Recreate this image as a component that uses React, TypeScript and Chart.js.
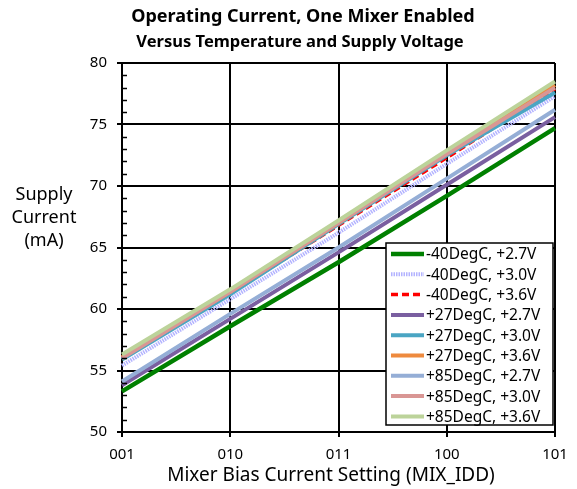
import React, { useEffect, useRef } from "react";
import { Chart, registerables } from "chart.js";

Chart.register(...registerables);

const categories = ["001", "010", "011", "100", "101"];
const seriesNames = [
  "-40DegC, +2.7V",
  "-40DegC, +3.0V",
  "-40DegC, +3.6V",
  "+27DegC, +2.7V",
  "+27DegC, +3.0V",
  "+27DegC, +3.6V",
  "+85DegC, +2.7V",
  "+85DegC, +3.0V",
  "+85DegC, +3.6V",
];
const m40_27 = [53.3, 58.6, 63.8, 69.2, 74.7];
const m40_30 = [55.4, 60.8, 66.2, 71.8, 77.3];
const m40_36 = [56.0, 61.3, 66.8, 72.3, 77.9];
const p27_27 = [53.8, 59.2, 64.6, 70.1, 75.6];
const p27_30 = [55.9, 61.2, 66.9, 72.5, 77.6];
const p27_36 = [56.1, 61.4, 67.0, 72.7, 78.2];
const p85_27 = [54.1, 59.6, 65.0, 70.6, 76.2];
const p85_30 = [56.0, 61.4, 67.0, 72.6, 78.0];
const p85_36 = [56.3, 61.6, 67.2, 72.9, 78.5];
const seriesValues = [m40_27, m40_30, m40_36, p27_27, p27_30, p27_36, p85_27, p85_30, p85_36];
const colors = ["#008000", "#b3b3ff", "#ff0000", "#7a5fa0", "#4aa5c3", "#ee8a3e", "#95aed6", "#d99694", "#bcd39a"];
const widths = [4.5, 4, 3.5, 4, 4, 4, 4, 4, 4];
const dashes: number[][] = [[], [1.5, 1], [7, 4], [], [], [], [], [], []];
const yTicks = [50, 55, 60, 65, 70, 75, 80];

const FONT = "'Noto Sans', sans-serif";

export default function App() {
  const ref = useRef<HTMLCanvasElement | null>(null);
  useEffect(() => {
    document.body.style.margin = "0";
    const canvas = ref.current!;
    const overlay = {
      id: "overlay",
      afterDraw(chart: any) {
        const ctx = chart.ctx;
        const y = chart.scales.y;
        const area = chart.chartArea;
        ctx.save();
        // minor ticks
        ctx.strokeStyle = "#000";
        ctx.lineWidth = 1.5;
        for (let v = 51; v < 80; v++) {
          if (v % 5 === 0) continue;
          const py = Math.round(y.getPixelForValue(v)) + 0.5;
          ctx.beginPath();
          ctx.moveTo(area.left, py);
          ctx.lineTo(area.left + 5, py);
          ctx.stroke();
        }
        // titles
        ctx.fillStyle = "#000";
        ctx.textAlign = "center";
        ctx.textBaseline = "middle";
        ctx.font = `bold 18px ${FONT}`;
        ctx.fillText("Operating Current, One Mixer Enabled", 303, 17);
        ctx.font = `bold 16.5px ${FONT}`;
        ctx.fillText("Versus Temperature and Supply Voltage", 300, 42);
        ctx.font = `18px ${FONT}`;
        ctx.fillText("Supply", 44, 195);
        ctx.fillText("Current", 44, 218);
        ctx.fillText("(mA)", 44, 241);
        ctx.font = `19px ${FONT}`;
        ctx.fillText("Mixer Bias Current Setting (MIX_IDD)", 331, 476);
        // legend
        const lx = 386, ly = 243, lw = 167, lh = 182;
        ctx.fillStyle = "#fff";
        ctx.fillRect(lx, ly, lw, lh);
        ctx.strokeStyle = "#000";
        ctx.lineWidth = 1.5;
        ctx.strokeRect(lx, ly, lw, lh);
        ctx.textAlign = "left";
        ctx.font = `15.5px ${FONT}`;
        seriesNames.forEach((name, i) => {
          const cy = 254 + i * 20.3;
          ctx.strokeStyle = colors[i];
          ctx.lineWidth = widths[i];
          ctx.setLineDash(dashes[i]);
          ctx.beginPath();
          ctx.moveTo(391, cy);
          ctx.lineTo(424, cy);
          ctx.stroke();
          ctx.setLineDash([]);
          ctx.fillStyle = "#000";
          ctx.fillText(name, 426, cy + 1);
        });
        ctx.restore();
      },
    };
    const chart = new Chart(canvas, {
      type: "line",
      data: {
        labels: categories,
        datasets: seriesValues.map((vals, i) => ({
          label: seriesNames[i],
          data: vals,
          borderColor: colors[i],
          backgroundColor: colors[i],
          borderWidth: widths[i],
          borderDash: dashes[i],
          pointRadius: 0,
          tension: 0,
          fill: false,
          order: seriesNames.length - i,
        })),
      },
      options: {
        responsive: false,
        animation: false,
        layout: { padding: { top: 63, right: 22, left: 0, bottom: 0 } },
        plugins: { legend: { display: false }, tooltip: { enabled: false }, title: { display: false } },
        scales: {
          x: {
            type: "category",
            offset: false,
            grid: { color: "#000", lineWidth: 2, tickLength: 5, drawTicks: true },
            border: { color: "#000", width: 2 },
            ticks: { color: "#000", font: { family: FONT, size: 15 }, padding: 9, maxRotation: 0 },
            afterFit(scale: any) {
              scale.height = 57;
            },
          },
          y: {
            min: 50,
            max: 80,
            afterBuildTicks(scale: any) {
              scale.ticks = yTicks.map((v) => ({ value: v }));
            },
            grid: { color: "#000", lineWidth: 2, tickLength: 5, drawTicks: true },
            border: { color: "#000", width: 2 },
            ticks: { color: "#000", font: { family: FONT, size: 15 }, padding: 10 },
            afterFit(scale: any) {
              scale.width = 122;
            },
          },
        },
      },
      plugins: [overlay],
    } as any);
    return () => chart.destroy();
  }, []);
  return <canvas ref={ref} width={577} height={489} style={{ display: "block" }} />;
}
